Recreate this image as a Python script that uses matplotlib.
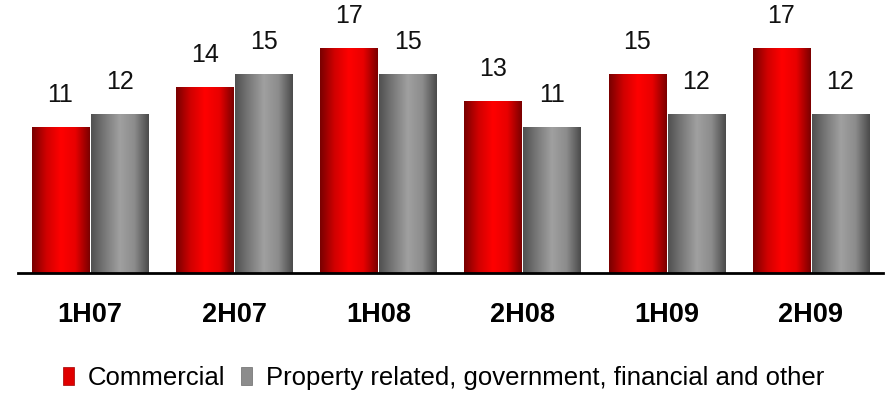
import numpy as np
import matplotlib
matplotlib.use("Agg")
import matplotlib.pyplot as plt
from matplotlib.colors import LinearSegmentedColormap
from matplotlib.patches import Rectangle

plt.rcParams["font.family"] = ["Liberation Sans", "DejaVu Sans"]

periods = ["1H07", "2H07", "1H08", "2H08", "1H09", "2H09"]
commercial = [11, 14, 17, 13, 15, 17]
property_other = [12, 15, 15, 11, 12, 12]
series_names = ["Commercial", "Property related, government, financial and other"]

red_cmap = LinearSegmentedColormap.from_list(
    "redbar", ["#780000", "#d00000", "#ff0000", "#e80000", "#7a0000"]
)
grey_cmap = LinearSegmentedColormap.from_list(
    "greybar", ["#505050", "#7a7a7a", "#a0a0a0", "#8c8c8c", "#4a4a4a"]
)
gradient = np.linspace(0, 1, 256).reshape(1, -1)

fig = plt.figure(figsize=(8.87, 3.95), dpi=100)
ax = fig.add_axes([18 / 887, 1 - 272.7 / 395, 865 / 887, 272.7 / 395])

x = np.arange(len(periods))
width = 0.398
offset = 0.205


def shaded_bars(xpos, values, cmap):
    bars = ax.bar(xpos, values, width, color="none", edgecolor="none", zorder=2)
    for bar, v in zip(bars, values):
        x0, w, h = bar.get_x(), bar.get_width(), bar.get_height()
        im = ax.imshow(gradient, cmap=cmap, aspect="auto",
                       extent=(x0, x0 + w, 0, h), zorder=2,
                       interpolation="bicubic")
        im.set_clip_path(bar)
        ax.annotate(f"{v:d}", (bar.get_x() + w / 2, h), xytext=(0, 32),
                    textcoords="offset pixels", ha="center", va="center",
                    fontsize=18, color="#111111")
    return bars


shaded_bars(x - offset, commercial, red_cmap)
shaded_bars(x + offset, property_other, grey_cmap)

ax.set_xlim(-0.5, 5.5)
ax.set_ylim(0, 20.6)

for side in ["top", "right", "left"]:
    ax.spines[side].set_visible(False)
ax.spines["bottom"].set_linewidth(2)
ax.spines["bottom"].set_zorder(3)
ax.set_yticks([])
ax.set_xticks(x)
ax.set_xticklabels(periods, fontsize=19.5, fontweight="bold")
ax.tick_params(axis="x", length=0, pad=21)

handles = [
    Rectangle((0, 0), 1, 1, facecolor="#e00000", edgecolor="#a00000", lw=0.5),
    Rectangle((0, 0), 1, 1, facecolor="#8c8c8c", edgecolor="#6a6a6a", lw=0.5),
]
fig.legend(handles, series_names, loc="center", bbox_to_anchor=(0.5, 0.043),
           ncol=2, frameon=False, fontsize=18.5, handlelength=0.42,
           handleheight=0.68, handletextpad=0.55, columnspacing=0.6,
           borderaxespad=0)

fig.savefig("out.png", dpi=100)
